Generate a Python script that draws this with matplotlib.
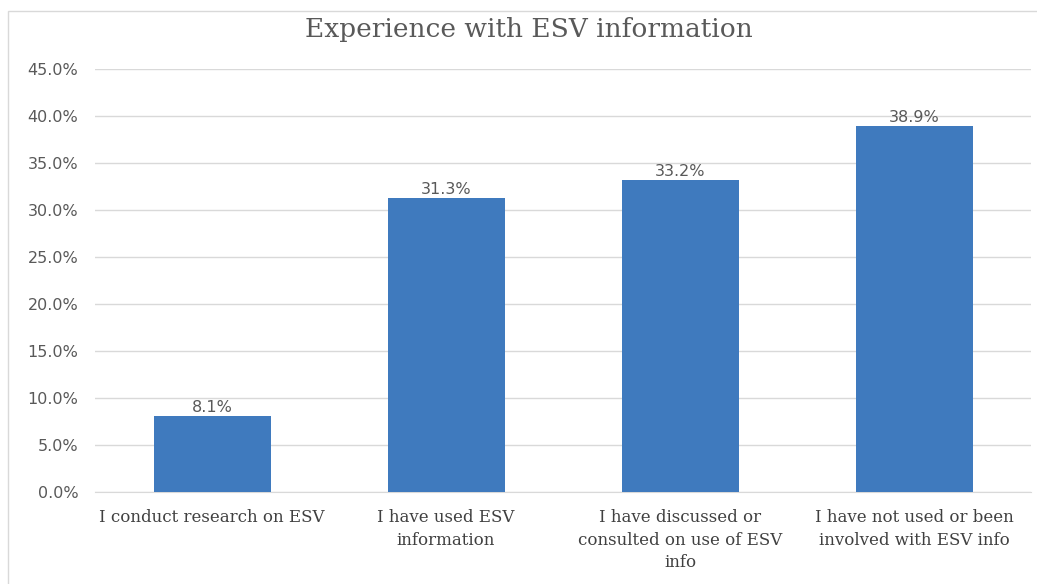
import matplotlib.pyplot as plt
from matplotlib.patches import Rectangle
from matplotlib.ticker import FuncFormatter
import numpy as np

categories = ['I conduct research on ESV',
              'I have used ESV\ninformation',
              'I have discussed or\nconsulted on use of ESV\ninfo',
              'I have not used or been\ninvolved with ESV info']
shares = [8.1, 31.3, 33.2, 38.9]
yticks = [0, 5, 10, 15, 20, 25, 30, 35, 40, 45]

bar_color = '#3f7abe'
grid_color = '#d9d9d9'
text_color = '#595959'
serif = ['DejaVu Serif']

fig = plt.figure(figsize=(10.37, 5.84), dpi=100)
W, H = 1037, 584
ax = fig.add_axes([95 / W, 1 - 492 / H, (1031 - 95) / W, (492 - 69) / H])

# light frame along the top and left of the chart area
fig.patches.append(Rectangle((8 / W, -0.05), 1.1, 1 - 11 / H + 0.05,
                             transform=fig.transFigure, fill=False,
                             edgecolor='#d9d9d9', linewidth=1))

x = np.arange(len(categories))
ax.bar(x, shares, width=0.5, color=bar_color, zorder=3)

for xi, v in zip(x, shares):
    ax.text(xi, v + 0.1, f'{v:.1f}%', ha='center', va='bottom',
            fontsize=11.5, color=text_color, family='DejaVu Sans')

ax.set_xlim(-0.5, len(categories) - 0.5)
ax.set_ylim(0, 45)
ax.set_yticks(yticks)
ax.yaxis.set_major_formatter(FuncFormatter(lambda v, p: f'{v:.1f}%'))
ax.set_xticks(x)
ax.set_xticklabels(categories, family=serif, fontsize=12,
                   color='#404040', linespacing=1.45)

ax.grid(axis='y', color=grid_color, linewidth=1, zorder=0)
for s in ['top', 'right', 'left']:
    ax.spines[s].set_visible(False)
ax.spines['bottom'].set_color(grid_color)
ax.tick_params(axis='both', length=0)
ax.tick_params(axis='y', labelsize=11.5, labelcolor=text_color, pad=12)
ax.tick_params(axis='x', pad=12)

fig.text(529 / W, 1 - 30 / H, 'Experience with ESV information',
         ha='center', va='center', family=serif, fontsize=19, color='#595959')

fig.savefig('out.png', dpi=100, facecolor='white')
